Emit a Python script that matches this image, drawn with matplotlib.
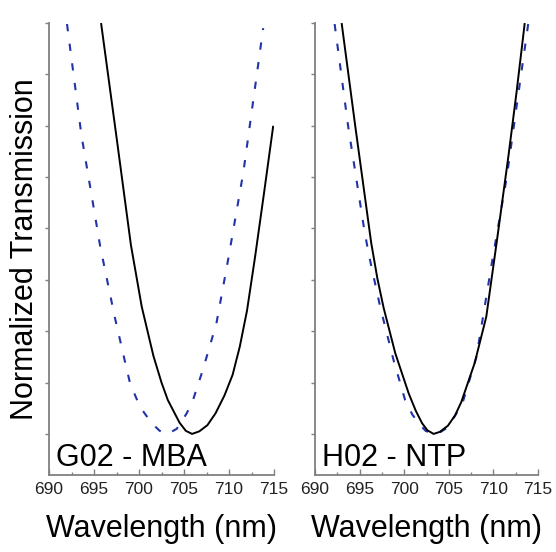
import matplotlib.pyplot as plt

plt.rcParams['font.family'] = ['Liberation Sans', 'DejaVu Sans']

# G02 - MBA
g02_wl_solid = [695.8, 697.5, 699.1, 700.3, 701.6, 702.5, 703.2, 704.5, 705.2, 705.9,
                706.7, 707.6, 708.5, 709.5, 710.4, 711.2, 712.0, 712.9, 713.9, 714.9]
g02_solid = [7.98, 5.78, 3.68, 2.48, 1.52, 1.00, 0.66, 0.22, 0.06, 0.0,
             0.05, 0.17, 0.40, 0.75, 1.15, 1.70, 2.40, 3.45, 4.70, 5.98]
g02_wl_dash = [692.0, 693.6, 695.7, 697.3, 698.4, 699.0, 700.1, 701.4, 702.3, 703.2,
               704.2, 705.3, 706.0, 707.1, 708.6, 709.9, 711.6, 712.7, 713.8]
g02_dash = [7.98, 5.82, 3.64, 2.28, 1.44, 0.99, 0.53, 0.21, 0.06, 0.0,
            0.10, 0.40, 0.66, 1.25, 2.15, 3.39, 5.10, 6.50, 7.90]

# H02 - NTP
h02_wl_solid = [693.0, 694.5, 696.3, 697.0, 697.7, 699.0, 700.5, 701.3, 702.0, 702.6,
                703.3, 704.0, 704.9, 705.7, 706.4, 707.9, 709.2, 710.4, 711.7, 712.6,
                713.5]
h02_solid = [7.98, 6.01, 3.72, 3.02, 2.45, 1.57, 0.79, 0.45, 0.21, 0.07,
             0.0, 0.04, 0.16, 0.36, 0.62, 1.38, 2.28, 3.77, 5.43, 6.66,
             7.98]
h02_wl_dash = [692.2, 693.7, 695.5, 696.0, 697.3, 698.8, 700.1, 700.9, 701.6, 702.4,
               703.2, 704.1, 704.9, 706.5, 708.1, 709.8, 711.5, 712.7, 713.9]
h02_dash = [7.98, 6.01, 4.00, 3.52, 2.48, 1.44, 0.66, 0.38, 0.21, 0.06,
            0.0, 0.04, 0.13, 0.58, 1.50, 3.30, 5.00, 6.50, 7.98]

panels = [
    ('G02 - MBA', g02_wl_solid, g02_solid, g02_wl_dash, g02_dash),
    ('H02 - NTP', h02_wl_solid, h02_solid, h02_wl_dash, h02_dash),
]

fig = plt.figure(figsize=(5.56, 5.52), dpi=100)
W, H = 556, 552
boxes = [(49, 225), (315, 223)]

for (name, wl_s, ys, wl_d, yd), (x0, w) in zip(panels, boxes):
    ax = fig.add_axes([x0 / W, (H - 475) / H, w / W, (475 - 23) / H])
    ax.plot(wl_s, ys, color='black', lw=1.4, zorder=3, solid_joinstyle='round')
    ax.plot(wl_d, yd, color='#2233aa', lw=1.5, dashes=(3.5, 6), zorder=2)
    ax.set_xlim(690, 715)
    ax.set_ylim(-0.8, 8)
    ax.set_xticks([690, 695, 700, 705, 710, 715])
    ax.set_xticks([692.5, 697.5, 702.5, 707.5, 712.5], minor=True)
    ax.set_yticks(range(0, 9))
    ax.set_yticklabels([])
    for s in ['top', 'right']:
        ax.spines[s].set_visible(False)
    for s in ['left', 'bottom']:
        ax.spines[s].set_color('#808080')
        ax.spines[s].set_linewidth(1.3)
    ax.tick_params(axis='x', which='both', direction='in', colors='#808080',
                   labelcolor='#222222', labelsize=12.5, pad=5)
    ax.tick_params(axis='x', which='major', length=4, width=1)
    ax.tick_params(axis='x', which='minor', length=2.5, width=1)
    ax.tick_params(axis='y', direction='out', length=3, width=1, colors='#808080')
    ax.set_xlabel('Wavelength (nm)', fontsize=22, labelpad=12)
    ax.text(0.03, 0.005, name, transform=ax.transAxes, fontsize=22,
            ha='left', va='bottom')

fig.text(25 / W, 0.549, 'Normalized Transmission', rotation=90,
         fontsize=22, ha='center', va='center')

fig.savefig('out.png', dpi=100)
